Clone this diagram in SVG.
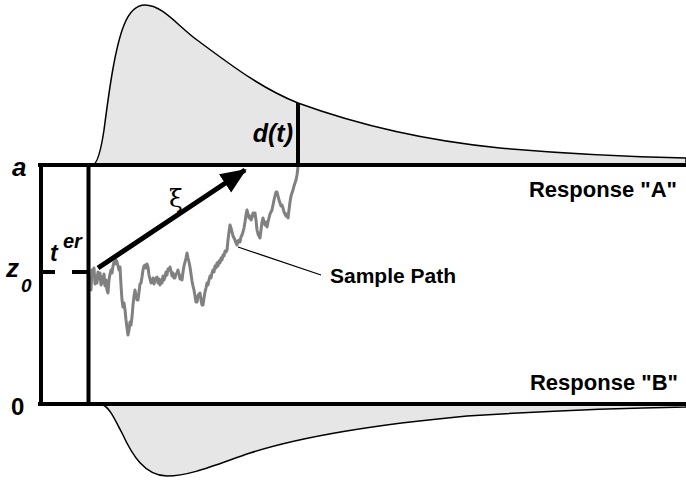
<svg xmlns="http://www.w3.org/2000/svg" width="686" height="480" viewBox="0 0 686 480">
<defs>
<style>
.dist{fill:#e6e6e6;stroke:#000;stroke-width:1.5}
.bar{stroke:#000;stroke-width:4;fill:none}
.lbl{font-family:"Liberation Sans",Arial,sans-serif;font-weight:bold;fill:#000}
.it{font-style:italic}
.path{fill:none;stroke:#808080;stroke-width:3;stroke-linejoin:round}
</style>
<marker id="ah" markerUnits="userSpaceOnUse" markerWidth="30" markerHeight="24" refX="24" refY="11" orient="auto" viewBox="0 0 30 24">
<path d="M0,0 L26,11 L0,22 Z" fill="#000"/>
</marker>
</defs>
<rect width="686" height="480" fill="#fff"/>
<g id="top-distribution">
<path class="dist" d="M93,165 C98,163 101,150 104,130 C108,100 114,50 124,25 C130,10 137,5 145,5 C162,5 177,25 197,40 C227,62 260,88 298,103 C350,122 420,140 500,148 C580,155 640,157 686,158 L686,165 Z"/>
</g>
<g id="bottom-distribution">
<path class="dist" d="M103,405 C110,408 115,420 122,433 C132,455 145,476 167,476 C190,476 215,465 250,453 C300,437 370,425 467,416 C560,410 620,408 686,407 L686,405 Z"/>
</g>
<g id="sample-path">
<polyline class="path" points="88,273 89,285 90,278 91,290 92,270 93,276 94,268 95,284 96,276 97,283 98,272 99,279 100,273 101,285 102,277 103,283 104,274 105,286 106,280 107,290 108,293 109,280 110,274 111,270 112,273 113,266 114,262 115,264 116,260 117,262 118,266 119,270 120,267 121,285 122,300 123,307 124,303 125,310 126,320 127,328 128,335 129,330 130,322 131,325 132,317 133,305 134,296 135,290 136,296 137,300 138,300 139,292 140,284 141,283 142,277 143,270 144,266 145,265 146,268 147,264 148,267 149,275 150,279 151,283 152,282 153,278 154,284 155,280 156,278 157,277 158,283 159,279 160,285 161,280 162,283 163,276 164,280 165,277 166,272 167,275 168,269 169,270 170,267 171,271 172,276 173,273 174,278 175,278 176,274 177,273 178,270 179,274 180,279 181,276 182,280 183,272 184,266 185,262 186,258 187,253 188,258 189,262 190,267 191,274 192,281 193,286 194,290 195,296 196,302 197,302 198,296 199,294 200,293 201,300 202,305 203,305 204,298 205,292 206,288 207,283 208,285 209,280 210,276 211,278 212,273 213,270 214,272 215,266 216,268 217,263 218,266 219,261 220,263 221,258 222,260 223,255 224,256 225,251 226,252 227,250 228,240 229,232 230,225 231,228 232,232 233,236 234,238 235,240 236,243 237,245 238,241 239,240 240,242 241,237 242,235 243,232 244,228 245,222 246,215 247,210 248,214 249,218 250,216 251,220 252,217 253,213 254,216 255,213 256,220 257,230 258,234 259,236 260,238 261,230 262,222 263,218 264,222 265,225 266,222 267,227 268,222 269,218 270,214 271,212 272,210 273,205 274,200 275,196 276,192 277,192 278,196 279,200 280,203 281,206 282,205 283,208 284,212 285,214 286,216 287,214 288,218 289,210 290,202 291,196 292,193 293,190 294,186 295,183 296,180 297,175 298,167"/>
</g>
<g id="boundaries">
<line class="bar" x1="38" y1="165" x2="686" y2="165"/>
<line class="bar" x1="38" y1="404" x2="686" y2="404"/>
<line class="bar" x1="41" y1="163" x2="41" y2="406"/>
<line class="bar" x1="88.5" y1="163" x2="88.5" y2="406"/>
<line class="bar" x1="298" y1="103" x2="298" y2="165"/>
<line class="bar" x1="41" y1="272" x2="55" y2="272"/>
<line class="bar" x1="72" y1="272" x2="88" y2="272"/>
</g>
<g id="connectors">
<line x1="98" y1="268" x2="245" y2="170" stroke="#000" stroke-width="5" marker-end="url(#ah)"/>
<line x1="238" y1="247" x2="321" y2="275" stroke="#000" stroke-width="1.3"/>
</g>
<g id="labels">
<text class="lbl it" x="12" y="176" font-size="26">a</text>
<text class="lbl it" x="6" y="277" font-size="26">z</text>
<text class="lbl it" x="21" y="292" font-size="19">0</text>
<text class="lbl" x="11" y="415" font-size="24">0</text>
<text class="lbl it" x="50" y="261" font-size="23">t</text>
<text class="lbl it" x="63" y="248" font-size="20">er</text>
<text x="169" y="207" font-family="'DejaVu Serif','Liberation Serif',serif" font-size="25" fill="#000">ξ</text>
<text class="lbl it" x="293" y="142" font-size="25" text-anchor="end">d(t)</text>
<text class="lbl" x="677" y="197" font-size="22" text-anchor="end">Response "A"</text>
<text class="lbl" x="678" y="390" font-size="22" text-anchor="end">Response "B"</text>
<text class="lbl" x="330" y="283" font-size="21">Sample Path</text>
</g>
</svg>
